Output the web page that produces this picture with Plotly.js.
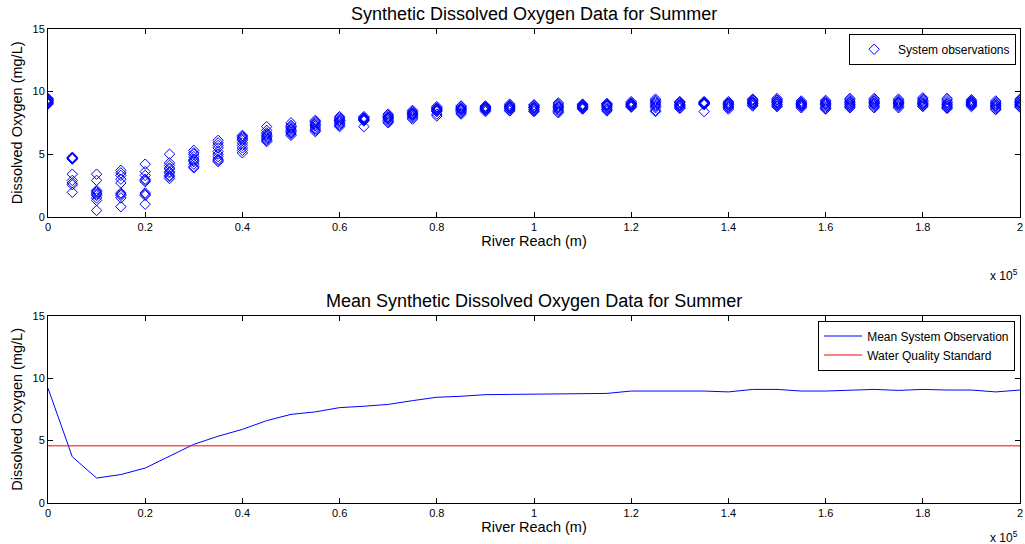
<!DOCTYPE html>
<html>
<head>
<meta charset="utf-8">
<script src="https://cdn.plot.ly/plotly-3.0.1.min.js"></script>
<style>
  html, body { margin: 0; padding: 0; background: #fff; }
  #chart { width: 1025px; height: 544px; }
</style>
</head>
<body>
<div id="chart"></div>
<script>
// River reach positions (m)
const reach = [0, 5000, 10000, 15000, 20000, 25000, 30000, 35000, 40000, 45000,
  50000, 55000, 60000, 65000, 70000, 75000, 80000, 85000, 90000, 95000,
  100000, 105000, 110000, 115000, 120000, 125000, 130000, 135000, 140000, 145000,
  150000, 155000, 160000, 165000, 170000, 175000, 180000, 185000, 190000, 195000, 200000];

// Synthetic dissolved oxygen observations (mg/L), one list per reach position
const observations = [
  [9.45, 9.4, 9.35, 9.3, 9.25, 9.2, 9.15, 9.1, 9.05, 9.0],
  [4.6, 4.65, 4.7, 4.75, 4.7, 3.4, 2.9, 2.7, 2.55, 1.95],
  [3.4, 2.9, 2.1, 2.0, 1.9, 1.8, 1.7, 1.5, 1.3, 0.5],
  [3.7, 3.5, 3.3, 3.0, 2.7, 1.9, 1.8, 1.7, 1.5, 0.8],
  [4.2, 3.6, 3.3, 3.0, 2.9, 2.8, 1.9, 1.8, 1.7, 1.0],
  [5.0, 4.3, 4.1, 3.9, 3.8, 3.6, 3.5, 3.3, 3.2, 3.05],
  [5.3, 5.1, 5.0, 4.8, 4.6, 4.5, 4.4, 4.2, 4.0, 3.9],
  [6.1, 5.9, 5.7, 5.5, 5.2, 5.0, 4.8, 4.6, 4.5, 4.4],
  [6.5, 6.4, 6.3, 6.2, 6.1, 5.9, 5.7, 5.5, 5.3, 5.1],
  [7.2, 6.9, 6.7, 6.6, 6.5, 6.4, 6.3, 6.2, 6.1, 6.0],
  [7.5, 7.3, 7.2, 7.1, 7.0, 6.9, 6.8, 6.7, 6.6, 6.5],
  [7.7, 7.6, 7.5, 7.4, 7.3, 7.25, 7.1, 7.0, 6.9, 6.8],
  [8.0, 7.9, 7.8, 7.7, 7.7, 7.6, 7.5, 7.4, 7.3, 7.2],
  [8.0, 7.9, 7.9, 7.85, 7.8, 7.8, 7.75, 7.7, 7.65, 7.2],
  [8.2, 8.1, 8.0, 7.95, 7.9, 7.85, 7.8, 7.7, 7.6, 7.5],
  [8.5, 8.4, 8.3, 8.25, 8.2, 8.15, 8.1, 8.0, 7.9, 7.8],
  [8.8, 8.7, 8.65, 8.6, 8.55, 8.5, 8.45, 8.4, 8.2, 8.05],
  [8.85, 8.8, 8.7, 8.65, 8.6, 8.55, 8.5, 8.4, 8.3, 8.2],
  [8.85, 8.8, 8.75, 8.7, 8.7, 8.65, 8.6, 8.55, 8.5, 8.4],
  [9.0, 8.9, 8.85, 8.8, 8.75, 8.7, 8.65, 8.6, 8.5, 8.45],
  [8.95, 8.9, 8.8, 8.75, 8.7, 8.7, 8.6, 8.55, 8.45, 8.4],
  [9.1, 9.0, 8.9, 8.8, 8.75, 8.7, 8.6, 8.5, 8.4, 8.3],
  [9.0, 8.95, 8.9, 8.85, 8.8, 8.8, 8.75, 8.7, 8.65, 8.6],
  [9.05, 9.0, 8.95, 8.9, 8.85, 8.8, 8.7, 8.6, 8.55, 8.45],
  [9.2, 9.1, 9.05, 9.0, 9.0, 8.95, 8.9, 8.85, 8.8, 8.75],
  [9.4, 9.3, 9.2, 9.1, 9.0, 8.9, 8.8, 8.7, 8.5, 8.4],
  [9.2, 9.15, 9.1, 9.0, 8.95, 8.9, 8.85, 8.8, 8.7, 8.65],
  [9.2, 9.15, 9.1, 9.1, 9.05, 9.05, 9.0, 9.0, 8.95, 8.4],
  [9.2, 9.1, 9.05, 9.0, 8.95, 8.9, 8.8, 8.75, 8.7, 8.6],
  [9.4, 9.35, 9.3, 9.2, 9.15, 9.1, 9.05, 9.0, 8.9, 8.85],
  [9.45, 9.35, 9.3, 9.2, 9.15, 9.1, 9.0, 8.95, 8.85, 8.8],
  [9.25, 9.15, 9.1, 9.05, 9.0, 8.95, 8.9, 8.85, 8.8, 8.7],
  [9.3, 9.2, 9.1, 9.05, 9.0, 8.95, 8.85, 8.75, 8.65, 8.6],
  [9.45, 9.35, 9.25, 9.15, 9.1, 9.0, 8.95, 8.85, 8.8, 8.7],
  [9.45, 9.35, 9.25, 9.2, 9.1, 9.05, 9.0, 8.9, 8.8, 8.7],
  [9.4, 9.3, 9.2, 9.15, 9.1, 9.05, 9.0, 8.9, 8.8, 8.7],
  [9.5, 9.4, 9.3, 9.2, 9.1, 9.05, 9.0, 8.95, 8.85, 8.8],
  [9.45, 9.35, 9.2, 9.1, 9.0, 8.95, 8.85, 8.8, 8.7, 8.65],
  [9.35, 9.25, 9.2, 9.15, 9.1, 9.05, 9.0, 8.95, 8.9, 8.8],
  [9.25, 9.15, 9.05, 9.0, 8.9, 8.85, 8.8, 8.7, 8.6, 8.55],
  [9.4, 9.3, 9.2, 9.15, 9.1, 9.0, 8.95, 8.9, 8.8, 8.75]
];

// Mean system observation (mg/L) per reach position
const meanObs = [9.2, 3.7, 2.0, 2.28, 2.8, 3.75, 4.7, 5.35, 5.9, 6.6,
  7.1, 7.3, 7.64, 7.75, 7.9, 8.2, 8.47, 8.55, 8.68, 8.7,
  8.72, 8.76, 8.78, 8.78, 8.97, 8.97, 8.97, 8.97, 8.9, 9.1,
  9.1, 8.97, 8.97, 9.05, 9.1, 9.02, 9.1, 9.05, 9.05, 8.9, 9.05];

// Water quality standard (mg/L)
const wqStandard = 4.58;

// Axis ticks
const xTickVals = [0, 20000, 40000, 60000, 80000, 100000, 120000, 140000, 160000, 180000, 200000];
const xTickText = ["0", "0.2", "0.4", "0.6", "0.8", "1", "1.2", "1.4", "1.6", "1.8", "2"];
const yTickVals = [0, 5, 10, 15];

const obsX = [], obsY = [];
reach.forEach((r, i) => observations[i].forEach(v => { obsX.push(r); obsY.push(v); }));

const FONT = "Liberation Sans, Arial, Helvetica, sans-serif";

const traces = [
  {
    x: obsX, y: obsY, xaxis: 'x', yaxis: 'y', type: 'scatter', mode: 'markers',
    name: 'System observations',
    marker: { symbol: 'diamond-open', size: 8, color: '#0000ff', line: { width: 1, color: '#0000ff' } },
    legend: 'legend'
  },
  {
    x: reach, y: meanObs, xaxis: 'x2', yaxis: 'y2', type: 'scatter', mode: 'lines',
    name: 'Mean System Observation', line: { color: '#0000ff', width: 1 },
    legend: 'legend2'
  },
  {
    x: [reach[0], reach[reach.length - 1]], y: [wqStandard, wqStandard], xaxis: 'x2', yaxis: 'y2',
    type: 'scatter', mode: 'lines',
    name: 'Water Quality Standard', line: { color: '#ff0000', width: 1 },
    legend: 'legend2'
  }
];

function xAxis(anchor) {
  return {
    anchor: anchor, domain: [0, 1], range: [0, 200000],
    tickmode: 'array', tickvals: xTickVals, ticktext: xTickText,
    ticks: 'inside', ticklen: 5, tickcolor: '#000', tickwidth: 1,
    showline: true, linecolor: '#000', linewidth: 1, mirror: 'ticks',
    showgrid: false, zeroline: false,
    tickfont: { family: FONT, size: 11, color: '#000' },
    title: { text: 'River Reach (m)', font: { family: FONT, size: 14.5, color: '#000' }, standoff: 3 }
  };
}
function yAxis(anchor, domain) {
  return {
    anchor: anchor, domain: domain, range: [0, 15],
    tickmode: 'array', tickvals: yTickVals,
    ticks: 'inside', ticklen: 5, tickcolor: '#000', tickwidth: 1,
    showline: true, linecolor: '#000', linewidth: 1, mirror: 'ticks',
    showgrid: false, zeroline: false,
    tickfont: { family: FONT, size: 11, color: '#000' },
    title: { text: 'Dissolved Oxygen (mg/L)', font: { family: FONT, size: 14.5, color: '#000' }, standoff: 6 }
  };
}

const legendCommon = {
  xanchor: 'right', yanchor: 'top',
  bgcolor: '#fff', bordercolor: '#000', borderwidth: 1,
  font: { family: FONT, size: 12, color: '#000' },
  itemwidth: 38, tracegroupgap: 0
};

const layout = {
  width: 1025, height: 544,
  paper_bgcolor: '#fff', plot_bgcolor: '#fff',
  margin: { l: 48, r: 5, t: 29, b: 41 },
  font: { family: FONT, color: '#000' },
  showlegend: true,
  xaxis: xAxis('y'),
  yaxis: yAxis('x', [0.604, 1]),
  xaxis2: xAxis('y2'),
  yaxis2: yAxis('x2', [0, 0.395]),
  legend: Object.assign({ x: 0.996, y: 0.99 }, legendCommon),
  legend2: Object.assign({ x: 0.995, y: 0.385 }, legendCommon),
  annotations: [
    { text: 'Synthetic Dissolved Oxygen Data for Summer', xref: 'paper', yref: 'paper',
      x: 0.5, y: 1, yshift: 3, xanchor: 'center', yanchor: 'bottom', showarrow: false,
      font: { family: FONT, size: 18, color: '#000' } },
    { text: 'Mean Synthetic Dissolved Oxygen Data for Summer', xref: 'paper', yref: 'paper',
      x: 0.5, y: 0.395, yshift: 3, xanchor: 'center', yanchor: 'bottom', showarrow: false,
      font: { family: FONT, size: 18, color: '#000' } },
    { text: 'x 10<sup>5</sup>', xref: 'paper', yref: 'paper',
      x: 1, y: 0.604, yshift: -48, xanchor: 'right', yanchor: 'top', showarrow: false,
      font: { family: FONT, size: 12, color: '#000' } },
    { text: 'x 10<sup>5</sup>', xref: 'paper', yref: 'paper',
      x: 1, y: 0, yshift: -24, xanchor: 'right', yanchor: 'top', showarrow: false,
      font: { family: FONT, size: 12, color: '#000' } }
  ]
};

Plotly.newPlot('chart', traces, layout, { displayModeBar: false, staticPlot: true });
</script>
</body>
</html>
